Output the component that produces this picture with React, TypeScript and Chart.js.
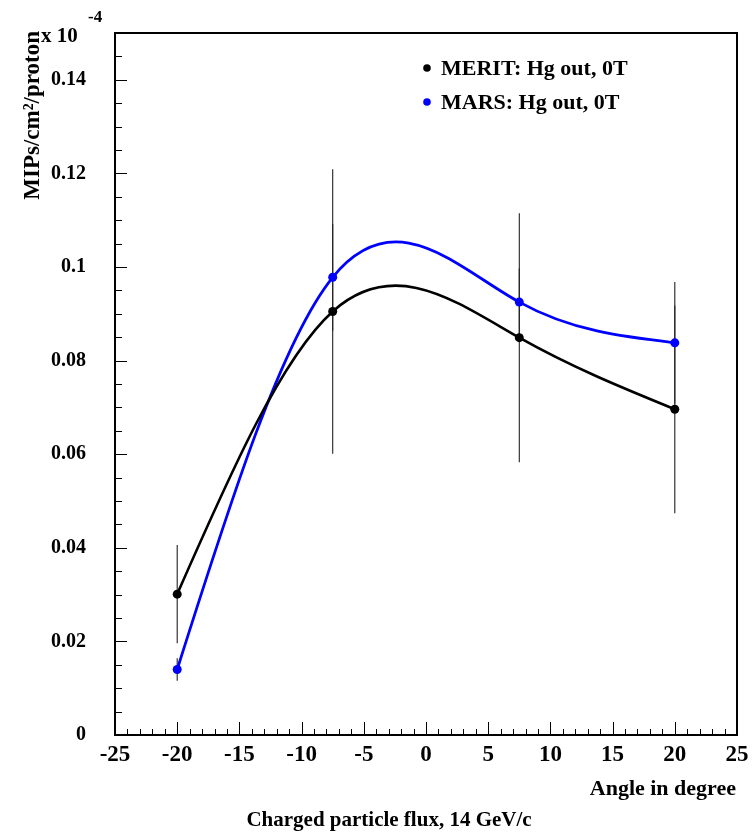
import React, { useEffect, useRef } from 'react';
import { Chart, registerables } from 'chart.js';

Chart.register(...registerables);

// ---- data ----
const ANGLES = [-20, -7.5, 7.5, 20];
const MERIT = [0.0301, 0.0905, 0.0849, 0.0696];
const MERIT_ERR = [0.0105, 0.0304, 0.0266, 0.0222];
const MARS = [0.014, 0.0978, 0.0925, 0.0838];
const MARS_ERR = [0.0024, 0.0114, 0.0072, 0.013];
const SERIES_LABELS = ['MERIT: Hg out, 0T', 'MARS: Hg out, 0T'];
const SERIES_COLORS = ['#000000', '#0000ff'];
const X_TICKS = [-25, -20, -15, -10, -5, 0, 5, 10, 15, 20, 25];
const Y_TICKS = [0, 0.02, 0.04, 0.06, 0.08, 0.1, 0.12, 0.14];
const X_TITLE = 'Angle in degree';
const Y_TITLE = 'MIPs/cm\u00B2/proton';
const Y_MULT = 'x 10';
const Y_EXP = '-4';
const BOTTOM_TITLE = 'Charged particle flux, 14 GeV/c';

const FONT = 'Liberation Serif';
const ERRORS = [MERIT_ERR, MARS_ERR];

// natural cubic spline control points (computed from the scaled data points)
function applyNaturalSpline(points: any[]) {
  const n = points.length;
  if (n < 3) return;
  const xs = points.map((p) => p.x);
  const ys = points.map((p) => p.y);
  const h: number[] = [];
  for (let i = 0; i < n - 1; i++) h.push(xs[i + 1] - xs[i]);
  const M = new Array(n).fill(0);
  const m = n - 2;
  const a: number[] = [], b: number[] = [], c: number[] = [], d: number[] = [];
  for (let i = 1; i <= m; i++) {
    a.push(h[i - 1]);
    b.push(2 * (h[i - 1] + h[i]));
    c.push(h[i]);
    d.push(6 * ((ys[i + 1] - ys[i]) / h[i] - (ys[i] - ys[i - 1]) / h[i - 1]));
  }
  for (let i = 1; i < m; i++) {
    const w = a[i] / b[i - 1];
    b[i] -= w * c[i - 1];
    d[i] -= w * d[i - 1];
  }
  const sol = new Array(m).fill(0);
  sol[m - 1] = d[m - 1] / b[m - 1];
  for (let i = m - 2; i >= 0; i--) sol[i] = (d[i] - c[i] * sol[i + 1]) / b[i];
  for (let i = 0; i < m; i++) M[i + 1] = sol[i];
  const slope: number[] = [];
  for (let i = 0; i < n - 1; i++) {
    slope.push((ys[i + 1] - ys[i]) / h[i] - (h[i] * (2 * M[i] + M[i + 1])) / 6);
  }
  const hl = h[n - 2];
  slope.push((ys[n - 1] - ys[n - 2]) / hl + (hl * (M[n - 2] + 2 * M[n - 1])) / 6);
  for (let i = 0; i < n; i++) {
    const p = points[i];
    if (i > 0) {
      const hh = h[i - 1];
      p.cp1x = p.x - hh / 3;
      p.cp1y = p.y - (slope[i] * hh) / 3;
    } else {
      p.cp1x = p.x;
      p.cp1y = p.y;
    }
    if (i < n - 1) {
      const hh = h[i];
      p.cp2x = p.x + hh / 3;
      p.cp2y = p.y + (slope[i] * hh) / 3;
    } else {
      p.cp2x = p.x;
      p.cp2y = p.y;
    }
  }
}

const decor = {
  id: 'decor',
  beforeDatasetDraw(chart: any, args: any) {
    const meta = chart.getDatasetMeta(args.index);
    const line = meta.dataset;
    if (line && line.updateControlPoints) {
      line.updateControlPoints(chart.chartArea, 'x');
      applyNaturalSpline(meta.data);
      line._path = undefined;
    }
  },
  beforeDatasetsDraw(chart: any) {
    const { ctx } = chart;
    const x = chart.scales.x;
    const y = chart.scales.y;
    ctx.save();
    ctx.strokeStyle = '#222';
    ctx.lineWidth = 1.1;
    chart.data.datasets.forEach((ds: any, i: number) => {
      const errs = ERRORS[i];
      ds.data.forEach((p: any, j: number) => {
        const px = x.getPixelForValue(p.x);
        ctx.beginPath();
        ctx.moveTo(px, y.getPixelForValue(p.y + errs[j]));
        ctx.lineTo(px, y.getPixelForValue(p.y - errs[j]));
        ctx.stroke();
      });
    });
    ctx.restore();
  },
  afterDraw(chart: any) {
    const { ctx, chartArea: a } = chart;
    const x = chart.scales.x;
    const y = chart.scales.y;
    ctx.save();
    // frame
    ctx.strokeStyle = '#000';
    ctx.lineWidth = 2;
    ctx.strokeRect(a.left, a.top, a.right - a.left, a.bottom - a.top);
    // ticks
    ctx.lineWidth = 1;
    for (let v = x.min; v <= x.max + 1e-9; v += 1) {
      const px = Math.round(x.getPixelForValue(v)) + 0.5;
      const len = Math.abs(v % 5) < 1e-9 ? 13 : 6;
      ctx.beginPath();
      ctx.moveTo(px, a.bottom);
      ctx.lineTo(px, a.bottom - len);
      ctx.stroke();
    }
    for (let k = 0; k * 0.005 <= y.max + 1e-9; k++) {
      const v = k * 0.005;
      const py = Math.round(y.getPixelForValue(v)) + 0.5;
      const len = k % 4 === 0 ? 12 : 7;
      ctx.beginPath();
      ctx.moveTo(a.left, py);
      ctx.lineTo(a.left + len, py);
      ctx.stroke();
    }
    // texts
    ctx.fillStyle = '#000';
    ctx.font = `bold 23px "${FONT}"`;
    // y title rotated
    ctx.save();
    ctx.translate(39, 31);
    ctx.rotate(-Math.PI / 2);
    ctx.textAlign = 'right';
    ctx.textBaseline = 'alphabetic';
    ctx.fillText(Y_TITLE, 0, 0);
    ctx.restore();
    // multiplier
    ctx.textAlign = 'left';
    ctx.textBaseline = 'alphabetic';
    ctx.font = `bold 21px "${FONT}"`;
    ctx.fillText(Y_MULT, 41, 42);
    ctx.font = `bold 17px "${FONT}"`;
    ctx.fillText(Y_EXP, 88, 22);
    // x title
    ctx.font = `bold 22px "${FONT}"`;
    ctx.textAlign = 'right';
    ctx.fillText(X_TITLE, 736, 795);
    // bottom title
    ctx.font = `bold 21px "${FONT}"`;
    ctx.textAlign = 'center';
    ctx.fillText(BOTTOM_TITLE, 389, 826);
    // legend
    ctx.font = `bold 22px "${FONT}"`;
    ctx.textAlign = 'left';
    chart.data.datasets.forEach((ds: any, i: number) => {
      const ly = 68 + i * 34;
      ctx.fillStyle = ds.borderColor;
      ctx.beginPath();
      ctx.arc(427, ly, 3.8, 0, Math.PI * 2);
      ctx.fill();
      ctx.fillStyle = '#000';
      ctx.fillText(ds.label, 441, ly + 7);
    });
    ctx.restore();
  },
};

export default function App() {
  const ref = useRef<HTMLCanvasElement>(null);
  useEffect(() => {
    document.body.style.margin = '0';
    const canvas = ref.current!;
    const mk = (vals: number[]) => ANGLES.map((a, i) => ({ x: a, y: vals[i] }));
    const chart = new Chart(canvas, {
      type: 'line',
      data: {
        datasets: [
          {
            label: SERIES_LABELS[0],
            data: mk(MERIT),
            borderColor: SERIES_COLORS[0],
            backgroundColor: SERIES_COLORS[0],
            borderWidth: 2.6,
            pointRadius: 4.5,
            pointBorderWidth: 0,
            tension: 0.4,
            fill: false,
          },
          {
            label: SERIES_LABELS[1],
            data: mk(MARS),
            borderColor: SERIES_COLORS[1],
            backgroundColor: SERIES_COLORS[1],
            borderWidth: 2.8,
            pointRadius: 4.5,
            pointBorderWidth: 0,
            tension: 0.4,
            fill: false,
          },
        ],
      },
      options: {
        responsive: false,
        animation: false,
        layout: { padding: { left: 0, top: 33, right: 16, bottom: 0 } },
        plugins: { legend: { display: false }, tooltip: { enabled: false }, title: { display: false } },
        scales: {
          x: {
            type: 'linear',
            min: -25,
            max: 25,
            grid: { display: false, drawTicks: false },
            border: { display: false },
            afterBuildTicks: (s: any) => { s.ticks = X_TICKS.map((v) => ({ value: v })); },
            afterFit: (s: any) => { s.height = 97; s.paddingLeft = 0; s.paddingRight = 0; },
            ticks: {
              padding: 6,
              color: '#000',
              maxRotation: 0,
              autoSkip: false,
              font: { family: FONT, weight: 'bold', size: 23 },
              callback: (v: any) => String(v),
            },
          },
          y: {
            type: 'linear',
            min: 0,
            max: 0.15,
            grid: { display: false, drawTicks: false },
            border: { display: false },
            afterBuildTicks: (s: any) => { s.ticks = Y_TICKS.map((v) => ({ value: v })); },
            afterFit: (s: any) => { s.width = 115; s.paddingTop = 0; s.paddingBottom = 0; },
            ticks: {
              padding: 29,
              color: '#000',
              autoSkip: false,
              font: { family: FONT, weight: 'bold', size: 20 },
              callback: (v: any) => String(+Number(v).toFixed(4)),
            },
          },
        },
      },
      plugins: [decor],
    } as any);
    return () => chart.destroy();
  }, []);
  return (
    <div style={{ width: 753, height: 832 }}>
      <canvas ref={ref} width={753} height={832} style={{ display: 'block' }} />
    </div>
  );
}
